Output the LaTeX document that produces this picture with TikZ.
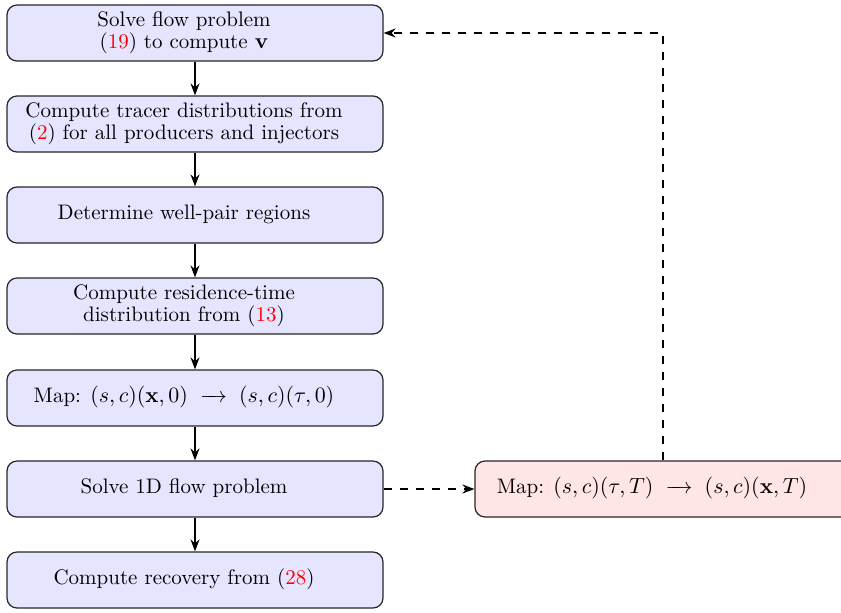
\documentclass[tikz,border=0pt]{standalone}
\usetikzlibrary{arrows.meta}
\newdimen\pxu \pxu=0.5pt
% stacked lines, nudged left inside the box
\newcommand\boxtext[1]{\begin{tabular}{@{}c@{}}#1\end{tabular}\hspace*{22\pxu}}
\newcommand\eqref[1]{(\textcolor{red}{#1})}
% a mid-length arrow with roomy spacing for the mapping lines
\newcommand\mapto{\mkern5mu\mathrel{\makebox[13.5pt]{\rightarrowfill}}\mkern5mu}
\tikzset{
  stepbox/.style={draw=black!85, line width=0.6pt, rounded corners=5pt,
    fill=blue!10, minimum width=376\pxu, minimum height=56\pxu, inner sep=0pt,
    font=\fontsize{10.5}{11}\selectfont},
  mapbox/.style={stepbox, fill=red!10},
  flow/.style={-{Stealth[length=6pt,width=4.5pt]}, line width=0.8pt},
  back/.style={flow, dash pattern=on 4pt off 4pt}
}
\begin{document}
\begin{tikzpicture}[x=\pxu, y=-\pxu]
\useasboundingbox (0,0) rectangle (841,612);
\begin{scope}
\clip (0,0) rectangle (841,612);
\node[stepbox] (solve) at (195,33) {\boxtext{Solve flow problem\\ \eqref{19} to compute $\mathbf{v}$}};
\node[stepbox] (tracer) at (195,124) {\boxtext{Compute tracer distributions from\\ \eqref{2} for all producers and injectors}};
\node[stepbox] (pairs) at (195,215) {\boxtext{Determine well-pair regions}};
\node[stepbox] (rtd) at (195,306) {\boxtext{Compute residence-time\\ distribution from \eqref{13}}};
\node[stepbox] (map0) at (195,398) {\boxtext{Map: $(s,c)(\mathbf{x},0) \mapto (s,c)(\tau,0)$}};
\node[stepbox] (oned) at (195,489) {\boxtext{Solve 1D flow problem}};
\node[stepbox] (recov) at (195,580) {\boxtext{Compute recovery from \eqref{28}}};
\node[mapbox] (mapT) at (663,489) {\boxtext{Map: $(s,c)(\tau,T) \mapto (s,c)(\mathbf{x},T)$}};
\end{scope}
\draw[flow] (solve) -- (tracer);
\draw[flow] (tracer) -- (pairs);
\draw[flow] (pairs) -- (rtd);
\draw[flow] (rtd) -- (map0);
\draw[flow] (map0) -- (oned);
\draw[flow] (oned) -- (recov);
\draw[back] (oned) -- (mapT);
\draw[back] (mapT.north) |- (solve.east);
\end{tikzpicture}
\end{document}
